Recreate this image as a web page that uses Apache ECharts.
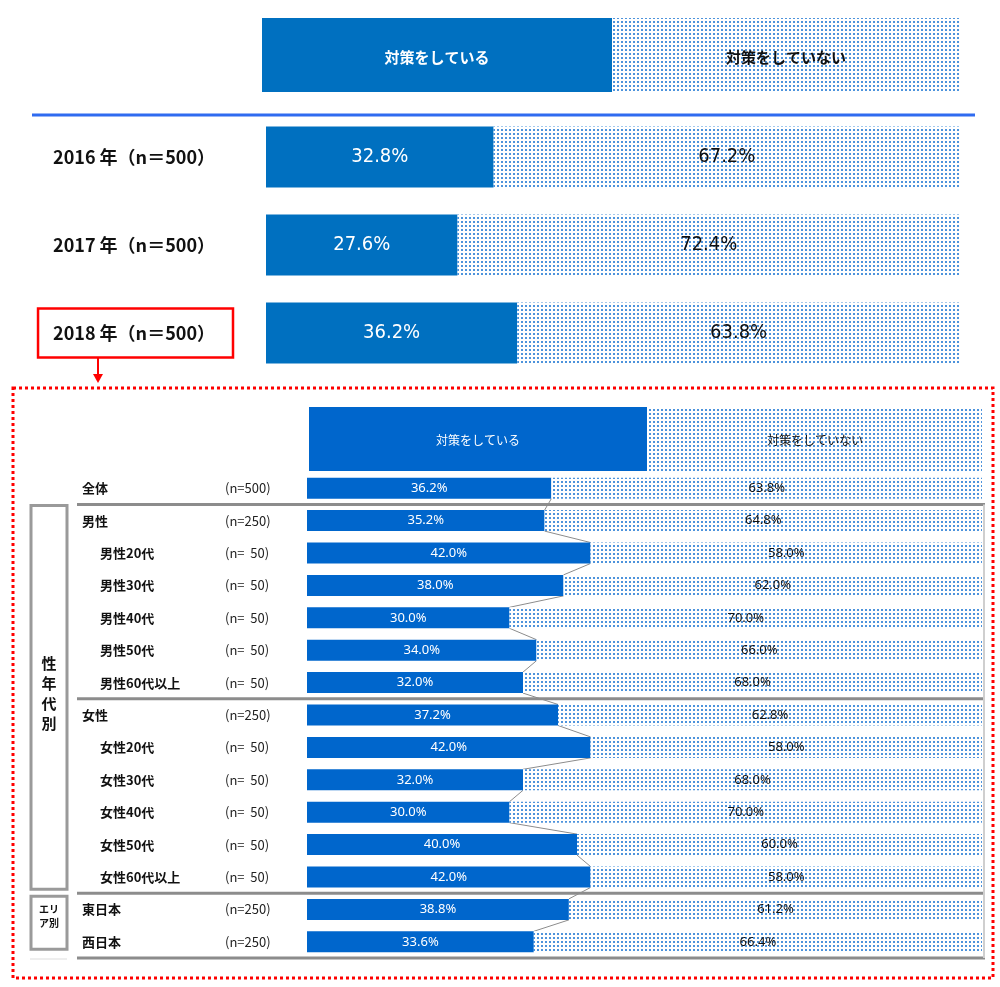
<!DOCTYPE html>
<html>
<head>
<meta charset="utf-8">
<title>対策をしている / していない</title>
<script src="https://cdn.jsdelivr.net/npm/echarts@6/dist/echarts.min.js"></script>
<style>
  html, body { margin: 0; padding: 0; background: #fff; }
  #chart { width: 1000px; height: 987px; }
</style>
</head>
<body>
<div id="chart"></div>
<script>
// 年別（上段）
const yearCats = ["2016 年（n＝500）", "2017 年（n＝500）", "2018 年（n＝500）"];
const yearDone = [32.8, 27.6, 36.2];
const yearNot = [67.2, 72.4, 63.8];

// 2018年 属性別（下段）
const subNames = ["全体", "男性", "男性20代", "男性30代", "男性40代", "男性50代", "男性60代以上",
  "女性", "女性20代", "女性30代", "女性40代", "女性50代", "女性60代以上", "東日本", "西日本"];
const subN = [500, 250, 50, 50, 50, 50, 50, 250, 50, 50, 50, 50, 50, 250, 250];
const subIndent = [0, 0, 1, 1, 1, 1, 1, 0, 1, 1, 1, 1, 1, 0, 0];
const subDone = [36.2, 35.2, 42.0, 38.0, 30.0, 34.0, 32.0, 37.2, 42.0, 32.0, 30.0, 40.0, 42.0, 38.8, 33.6];
const subNot = [63.8, 64.8, 58.0, 62.0, 70.0, 66.0, 68.0, 62.8, 58.0, 68.0, 70.0, 60.0, 58.0, 61.2, 66.4];

const legendDone = "対策をしている";
const legendNot = "対策をしていない";

const JP = '"Noto Sans CJK JP", "Noto Sans", sans-serif';
const BLUE_TOP = "#0070c0";
const BLUE_SUB = "#0066cc";

// 点描パターン
function makeDots() {
  const c = document.createElement("canvas");
  c.width = 4;
  c.height = 4;
  const g = c.getContext("2d");
  g.fillStyle = "#ffffff";
  g.fillRect(0, 0, 4, 4);
  g.fillStyle = "#4d93dc";
  g.fillRect(1, 1, 2, 2);
  return c;
}
const dots = { image: makeDots(), repeat: "repeat" };

const chart = echarts.init(document.getElementById("chart"));

chart.setOption({
  animation: false,
  grid: [
    { left: 266, right: 40, top: 113, height: 264 },
    { left: 307, right: 18, top: 472, height: 486 },
  ],
  xAxis: [
    { gridIndex: 0, type: "value", min: 0, max: 100, show: false },
    { gridIndex: 1, type: "value", min: 0, max: 100, show: false },
  ],
  yAxis: [
    {
      gridIndex: 0,
      type: "category",
      inverse: true,
      data: yearCats,
      axisLine: { show: false },
      axisTick: { show: false },
      axisLabel: {
        margin: 33,
        formatter: (v, i) => (i === 2 ? `{box|${v}}` : `{plain|${v}}`),
        rich: {
          box: {
            fontFamily: JP, fontSize: 18, fontWeight: "bold", color: "#111",
            lineHeight: 22, padding: [16, 18, 15, 15],
            borderColor: "#ff0000", borderWidth: 2.5,
          },
          plain: {
            fontFamily: JP, fontSize: 18, fontWeight: "bold", color: "#111",
            lineHeight: 22, padding: [16, 18, 15, 15],
          },
        },
      },
    },
    {
      gridIndex: 1,
      type: "category",
      inverse: true,
      data: subNames,
      axisLine: { show: false },
      axisTick: { show: false },
      axisLabel: {
        margin: 225,
        align: "left",
        formatter: (v, i) => {
          const n = subN[i] >= 100 ? `(n=${subN[i]})` : `(n=  ${subN[i]})`;
          return subIndent[i] ? `{sp| }{b|${v}}{n|${n}}` : `{a|${v}}{n|${n}}`;
        },
        rich: {
          sp: { width: 18, fontSize: 13 },
          a: { width: 143, fontFamily: JP, fontSize: 13, fontWeight: "bold", color: "#111" },
          b: { width: 125, fontFamily: JP, fontSize: 13, fontWeight: "bold", color: "#111" },
          n: { fontFamily: JP, fontSize: 13, color: "#222" },
        },
      },
    },
  ],
  series: [
    {
      name: legendDone, type: "bar", stack: "year", xAxisIndex: 0, yAxisIndex: 0,
      barWidth: 61, data: yearDone,
      itemStyle: { color: BLUE_TOP },
      label: {
        show: true, position: "inside", color: "#fff",
        fontFamily: '"DejaVu Sans Condensed", sans-serif', fontSize: 20,
        formatter: (p) => p.value.toFixed(1) + "%",
      },
    },
    {
      name: legendNot, type: "bar", stack: "year", xAxisIndex: 0, yAxisIndex: 0,
      barWidth: 61, data: yearNot,
      itemStyle: { color: dots },
      label: {
        show: true, position: "inside", color: "#111",
        fontFamily: '"DejaVu Sans Condensed", sans-serif', fontSize: 20,
        formatter: (p) => p.value.toFixed(1) + "%",
      },
    },
    {
      name: legendDone, type: "bar", stack: "sub", xAxisIndex: 1, yAxisIndex: 1,
      barWidth: 21, data: subDone,
      itemStyle: { color: BLUE_SUB },
      label: {
        show: true, position: "inside", color: "#fff",
        fontFamily: '"Noto Sans", sans-serif', fontSize: 13,
        formatter: (p) => p.value.toFixed(1) + "%",
      },
    },
    {
      name: legendNot, type: "bar", stack: "sub", xAxisIndex: 1, yAxisIndex: 1,
      barWidth: 21, data: subNot,
      itemStyle: { color: dots },
      label: {
        show: true, position: "inside", color: "#111",
        fontFamily: '"Noto Sans", sans-serif', fontSize: 13,
        formatter: (p) => p.value.toFixed(1) + "%",
      },
    },
    {
      // 棒の右端をつなぐ線
      type: "custom", xAxisIndex: 1, yAxisIndex: 1, z: 1,
      encode: { x: 0, y: 1 },
      data: subDone.slice(0, -1).map((v, i) => [v, i, subDone[i + 1], i + 1]),
      renderItem: (params, api) => {
        const p0 = api.coord([api.value(0), api.value(1)]);
        const p1 = api.coord([api.value(2), api.value(3)]);
        return {
          type: "line",
          shape: { x1: p0[0], y1: p0[1] + 10.5, x2: p1[0], y2: p1[1] - 10.5 },
          style: { stroke: "#8c8c8c", lineWidth: 1 },
        };
      },
    },
  ],
});

// 区切り線など（カテゴリ境界は軸から求める）
const cy = (i) => chart.convertToPixel({ yAxisIndex: 1 }, i);
const band = cy(1) - cy(0);
const bounds = [0.5, 6.5, 12.5, 14.5].map((b) => cy(Math.floor(b)) + band / 2);
const x100 = chart.convertToPixel({ xAxisIndex: 1 }, 100);
const tx100 = chart.convertToPixel({ xAxisIndex: 0 }, 100);

const graphics = [];

// 上段の凡例ヘッダー
graphics.push(
  { type: "rect", shape: { x: 262, y: 18, width: 350, height: 74 }, style: { fill: BLUE_TOP } },
  { type: "rect", shape: { x: 612, y: 18, width: tx100 - 612, height: 74 }, style: { fill: dots } },
  { type: "text", x: 437, y: 57, style: { text: legendDone, fill: "#fff", font: `bold 15px ${JP}`, align: "center", verticalAlign: "middle" } },
  { type: "text", x: 786, y: 57, style: { text: legendNot, fill: "#111", font: `bold 15px ${JP}`, align: "center", verticalAlign: "middle" } },
  { type: "line", shape: { x1: 32, y1: 115, x2: 975, y2: 115 }, style: { stroke: "#2f6bf0", lineWidth: 3 } }
);

// 矢印と赤い点線枠
graphics.push(
  { type: "line", shape: { x1: 98, y1: 358, x2: 98, y2: 376 }, style: { stroke: "#ff0000", lineWidth: 2 } },
  { type: "polygon", shape: { points: [[93, 374], [103, 374], [98, 383]] }, style: { fill: "#ff0000" } },
  { type: "rect", shape: { x: 13, y: 388, width: 980, height: 590 }, style: { fill: "none", stroke: "#ff0000", lineWidth: 3, lineDash: [3, 3] } }
);

// 下段の凡例ヘッダー
graphics.push(
  { type: "rect", shape: { x: 309, y: 407, width: 338, height: 64 }, style: { fill: BLUE_SUB } },
  { type: "rect", shape: { x: 647, y: 407, width: x100 - 647, height: 64 }, style: { fill: dots } },
  { type: "text", x: 478, y: 440, style: { text: legendDone, fill: "#fff", font: `12px ${JP}`, align: "center", verticalAlign: "middle" } },
  { type: "text", x: 815, y: 440, style: { text: legendNot, fill: "#111", font: `12px ${JP}`, align: "center", verticalAlign: "middle" } }
);

// 区切り線
bounds.forEach((y) => {
  graphics.push({ type: "line", shape: { x1: 77, y1: y, x2: 985, y2: y }, style: { stroke: "#8c8c8c", lineWidth: 3 } });
});
graphics.push({ type: "line", shape: { x1: 984, y1: bounds[0], x2: 984, y2: bounds[3] }, style: { stroke: "#cfcfcf", lineWidth: 2 } });

// グループ枠
graphics.push(
  { type: "rect", shape: { x: 31, y: bounds[0] + 1, width: 36, height: bounds[2] - bounds[0] - 5 }, style: { fill: "none", stroke: "#9a9a9a", lineWidth: 3 } },
  { type: "text", x: 49, y: 693, style: { text: "性\n年\n代\n別", fill: "#111", font: `bold 15px ${JP}`, lineHeight: 20, align: "center", verticalAlign: "middle" } },
  { type: "rect", shape: { x: 31, y: bounds[2] + 3, width: 36, height: 53 }, style: { fill: "none", stroke: "#9a9a9a", lineWidth: 3 } },
  { type: "text", x: 49, y: 916, style: { text: "エリ\nア別", fill: "#111", font: `bold 10px ${JP}`, lineHeight: 14, align: "center", verticalAlign: "middle" } },
  { type: "line", shape: { x1: 30, y1: bounds[3] + 1, x2: 67, y2: bounds[3] + 1 }, style: { stroke: "#dddddd", lineWidth: 1 } }
);

chart.setOption({ graphic: graphics });
</script>
</body>
</html>
